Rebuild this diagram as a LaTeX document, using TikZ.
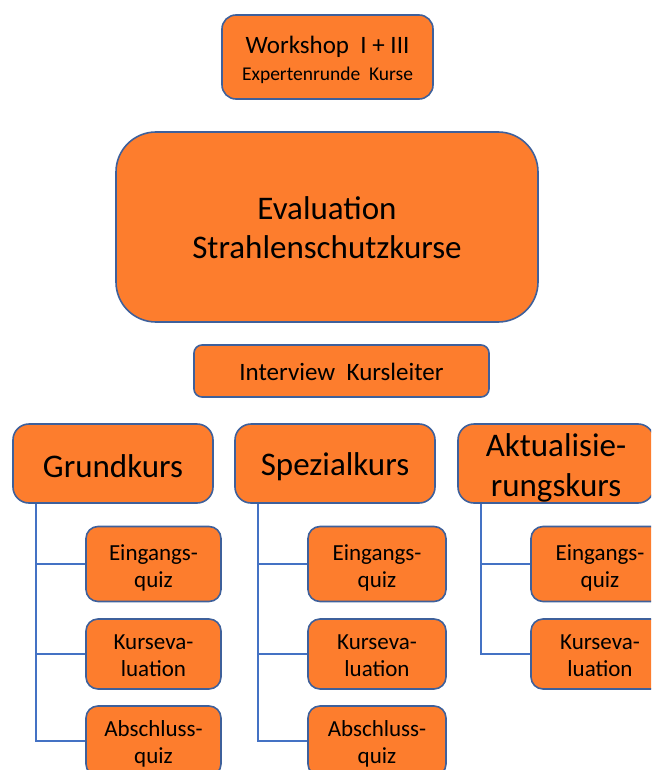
\documentclass[tikz,border=0pt]{standalone}
\usepackage{fontspec}
\setmainfont{Carlito}
\usetikzlibrary{backgrounds}
\definecolor{boxfill}{RGB}{253,125,45}
\definecolor{boxline}{RGB}{62,96,155}
\definecolor{conn}{RGB}{68,114,196}
\tikzset{
  box/.style={draw=boxline, line width=1.6pt, fill=boxfill, inner sep=0pt},
  lbl/.style={align=center, inner sep=0pt, text=black},
  conline/.style={draw=conn, line width=2pt},
}
\begin{document}
\begin{tikzpicture}[x=1pt,y=-1pt]
\useasboundingbox (0,0) rectangle (651,770);
\clip (0,0) rectangle (651,770);
% top
\node[box, rounded corners=14pt, minimum width=211pt, minimum height=84pt] (ws) at (327.5,57) {};
\node[lbl, font=\fontsize{25}{29}\selectfont] (wst) at ([yshift=-3pt]ws.center)
  {Workshop\ \ I + III\\[-2pt]{\fontsize{19.5}{22}\selectfont Expertenrunde\ \ Kurse}};
\node[box, rounded corners=40pt, minimum width=422pt, minimum height=190pt] (ev) at (327,227) {};
\node[lbl, font=\fontsize{33}{39}\selectfont] (evt) at ([yshift=-1pt]ev.center) {Evaluation\\Strahlenschutzkurse};
\node[box, rounded corners=8pt, minimum width=295pt, minimum height=52pt] (iv) at (341.5,371) {};
\node[lbl, font=\fontsize{25}{29}\selectfont] (ivt) at ([yshift=-1pt]iv.center) {Interview\ \ Kursleiter};
% course boxes
\tikzset{course/.style={box, rounded corners=16pt, minimum height=79pt},
         coursetext/.style={lbl, font=\fontsize{33}{40}\selectfont}}
\node[course, minimum width=200pt] (gk) at (113,463.5) {};
\node[coursetext] (gkt) at ([yshift=-3pt]gk.center) {Grundkurs};
\node[course, minimum width=200pt] (sk) at (335,463.5) {};
\node[coursetext] (skt) at ([yshift=-3pt]sk.center) {Spezialkurs};
\node[course, minimum width=196pt] (ak) at (556,463.5) {};
\node[coursetext] (akt) at ([yshift=-4pt]ak.center) {Aktualisie-\\rungskurs};
% children
\tikzset{subbox/.style={box, rounded corners=12pt},
         subtext/.style={lbl, font=\fontsize{23}{27}\selectfont}}
\node[subbox, minimum width=135pt, minimum height=75pt] (gk1) at (153.5,564) {};
\node[subbox, minimum width=135pt, minimum height=70pt] (gk2) at (153.5,654) {};
\node[subbox, minimum width=135pt, minimum height=70pt] (gk3) at (153.5,741) {};
\node[subbox, minimum width=138pt, minimum height=75pt] (sk1) at (377,564) {};
\node[subbox, minimum width=138pt, minimum height=70pt] (sk2) at (377,654) {};
\node[subbox, minimum width=138pt, minimum height=70pt] (sk3) at (377,741) {};
\node[subbox, minimum width=138pt, minimum height=75pt] (ak1) at (600,564) {};
\node[subbox, minimum width=138pt, minimum height=70pt] (ak2) at (600,654) {};
\node[subtext] (gk1t) at ([yshift=-3.5pt]gk1.center) {Eingangs-\\quiz};
\node[subtext] (gk2t) at ([yshift=-2pt]gk2.center) {Kurseva-\\luation};
\node[subtext] (gk3t) at ([yshift=-3pt]gk3.center) {Abschluss-\\quiz};
\node[subtext] (sk1t) at ([yshift=-3.5pt]sk1.center) {Eingangs-\\quiz};
\node[subtext] (sk2t) at ([yshift=-2pt]sk2.center) {Kurseva-\\luation};
\node[subtext] (sk3t) at ([yshift=-3pt]sk3.center) {Abschluss-\\quiz};
\node[subtext] (ak1t) at ([yshift=-3.5pt]ak1.center) {Eingangs-\\quiz};
\node[subtext] (ak2t) at ([yshift=-2pt]ak2.center) {Kurseva-\\luation};
% connectors
\coordinate (gkv) at (36,503);
\coordinate (skv) at (258,503);
\coordinate (akv) at (481,503);
\begin{scope}[on background layer]
\draw[conline] (gkv) |- (gk1.west);
\draw[conline] (gkv) |- (gk2.west);
\draw[conline] (gkv) |- (gk3.west);
\draw[conline] (skv) |- (sk1.west);
\draw[conline] (skv) |- (sk2.west);
\draw[conline] (skv) |- (sk3.west);
\draw[conline] (akv) |- (ak1.west);
\draw[conline] (akv) |- (ak2.west);
\end{scope}
\end{tikzpicture}
\end{document}
